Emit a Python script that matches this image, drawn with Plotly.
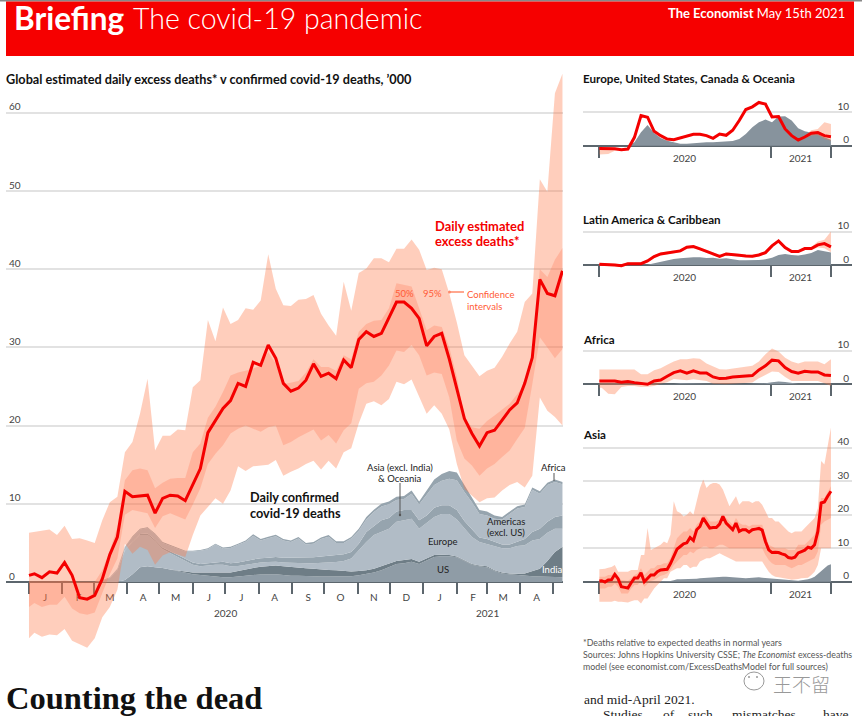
import numpy as np
import pandas as pd
import plotly.graph_objects as go

W, H = 862, 716
SANS = "Lato"
SERIF = "Liberation Serif"

# ---------- dates ----------
weekly_dates = [pd.Timestamp("2020-01-01")] + list(pd.date_range("2020-01-06", "2021-05-10", freq="7D"))
biweekly_dates = [pd.Timestamp("2020-01-01")] + list(pd.date_range("2020-01-06", "2021-05-10", freq="14D"))

# ---------- main chart, thousands ----------
excess_central = [0.85,1.05,0.55,1.3,1.15,2.5,0.85,-2.0,-2.2,-1.7,0.4,3.5,5.75,11.6,10.9,11.0,11.1,8.8,10.7,11.1,11.0,10.4,12.4,14.5,19.1,20.6,22.2,23.2,25.4,25.0,28.1,27.7,30.3,28.6,25.4,24.4,24.8,25.8,27.9,26.3,26.7,26.0,28.4,27.4,31.0,32.0,31.4,31.8,33.9,35.8,35.8,35.0,33.7,30.2,31.4,31.8,28.5,24.5,20.9,19.0,17.4,19.1,19.4,20.7,22.0,22.9,25.4,28.7,38.7,36.9,36.6,39.8]
excess_hi95 = [6.3,6.4,6.5,6.7,6.0,7.2,5.5,5.6,5.3,5.0,7.9,10.2,10.9,16.6,17.9,21.5,26,16.8,18.7,18.7,19.5,19.4,24.9,25.8,33.5,30.8,35.1,33,33.5,35,34.8,36,41.9,37.5,35.4,35.3,36.1,36.2,36.7,34.3,32.8,31.5,38.4,34.7,39.5,40.1,41.4,41.4,40.9,42.6,42.6,43.8,42.5,39.9,40.2,40,36.9,33.2,29,27.7,26.3,27,27.4,28.8,30.5,32,35.8,36.9,51.5,49.9,62.5,65]
excess_lo95 = [-7.2,-6.5,-7,-6.7,-6.8,-6,-7.5,-7.9,-8.4,-7.2,-4.5,-3.2,-1,4.9,3.6,4.5,4.1,2.2,3.4,3.8,3.5,3.2,6,8.5,9.6,10.7,10,11.7,14.8,14.2,14.8,14.9,15,15.6,13.6,14.1,14.5,15.1,15.5,14.4,15.5,14.5,16.6,17.1,20.3,22.8,23.1,22.6,23.4,25.6,25.3,25.9,23.6,21.5,22.6,21.5,19.5,15.1,11.9,11,10.2,10.7,10.8,11.7,12.4,12.8,12.1,13.6,23.6,21.9,21.1,20]
excess_hi50 = [0.1,0.1,0.1,0.1,0.1,0.2,0.1,0,0,0,1.5,4,7,13,14.3,14.5,14.3,12,12.7,13.2,13.3,13.3,16.6,17.7,21,22.4,24.3,26.4,26.8,27,27.3,27.7,29.4,27.9,25.3,25.5,25.7,26.8,28.5,27.5,27.5,27,29,28.5,32,33,33.4,33.5,35,38.2,38,37.8,35,32.2,32.8,32.6,30,26.2,21,19.8,19.6,20.6,21.3,22.1,22.8,24,25.3,29.2,40,39,41.2,42.7]
excess_lo50 = [-3.2,-2.7,-3.2,-2.9,-2.9,-1.9,-3.4,-4,-4.2,-3.9,-1.4,1,3,8.6,9.2,9,8.8,6.9,8.4,8.8,8.4,8,9.9,12,15.1,16.4,17.5,19,19.6,20,19.6,19.2,19.8,20,17.5,17.9,18.5,19,19.5,18.1,18.8,17.7,19.4,20.3,24.7,25.4,25.6,26.4,27.7,29.6,29.4,30.3,29,26.4,26.8,26.6,23.6,18.1,15.8,14.9,13.6,14.5,15.1,16,16.8,18.3,19.7,25.3,31.3,30,28.6,29.8]

no_deaths = [0] * 10
confirmed_us = no_deaths + [0,0,0,.25,1,1.9,2,1.9,1.8,1.6,1.4,1.2,1,.9,.8,.7,.6,.6,.7,.85,.9,.95,1,1,.9,.8,.8,.75,.75,.7,.7,.7,.7,.75,.85,1,1.2,1.5,1.9,2.3,2.4,2.6,2.3,2.7,3.2,3.3,3.3,3.15,2.7,2.2,2,1.9,1.4,1.1,1,.9,.8,.75,.7,.7,.65,.6]
confirmed_india = no_deaths + [0,0,0,0,0,0,0,0,0,0,.05,.1,.2,.3,.4,.5,.6,.6,.7,.8,.9,1,1.05,1.1,1.1,1.1,1.05,1,.95,.9,.85,.8,.7,.6,.55,.5,.5,.5,.45,.4,.4,.35,.3,.3,.25,.2,.15,.1,.1,.1,.1,.1,.1,.1,.1,.15,.3,.6,1,2,3.2,3.9]
confirmed_europe_top = no_deaths + [.1,.5,1.5,4,5.1,6,6,5.2,4.2,3.7,3.2,2.7,2.2,2,2.1,2.2,2.2,2,2.05,2.2,2.4,2.5,2.55,2.6,2.5,2.45,2.4,2.4,2.4,2.45,2.5,2.55,2.7,3,4.05,5.1,6,6.4,6.8,7.7,7.9,8.1,6.8,7.5,8.3,8.7,8.7,8,6.8,5.75,5.1,4.8,4.5,4.3,4.3,4.6,4.7,5.3,5.5,6.3,6.8,6.8]
confirmed_asia = no_deaths + [0,0,.05,.1,.1,.15,.2,.2,.2,.2,.2,.25,.3,.3,.3,.35,.4,.4,.45,.5,.5,.55,.55,.6,.6,.65,.7,.7,.75,.8,.85,.85,.85,.85,.85,1.3,1.1,1.5,1.4,1.3,1.3,1.1,1.1,1,1.2,1.1,1.1,1.2,1,1.05,.6,.7,.6,.5,.5,.6,.8,1.1,1.3,1.4,1.5,1.7]
confirmed_total = no_deaths + [.2,.6,1.7,4.5,5.85,6.8,7,6.2,5.1,4.7,4.3,4,4,4.1,4.3,4.9,4.4,4.5,4.9,5.3,6.1,5.5,5.8,6.05,5.5,5.3,5.75,5,5.1,5.7,6,5.2,5.2,5.75,6.8,8.3,9.25,10,10.3,10.9,11,11.7,10.3,11.7,13.1,13.8,14.2,14,12.4,10.9,9.2,9,8.5,8.3,9,9.7,9.9,12.1,11.6,12.7,13.1,12.8]
confirmed_africa = no_deaths + [0,0,0,.05,.1,.1,.1,.1,.1,.1,.1,.1,.1,.1,.1,.1,.15,.15,.15,.15,.2,.2,.2,.2,.2,.2,.2,.2,.2,.2,.2,.2,.2,.2,.25,.3,.3,.35,.35,.4,.4,.4,.4,.5,.7,.85,1,1,.9,.7,.5,.5,.4,.3,.3,.3,.3,.3,.3,.3,.3,.3]

# ---------- regional panels ----------
west_excess = [-.8,-.8,-.8,-.9,-1.2,-1,2.5,9,8.5,4.3,3,2,1.8,2.4,3,3.4,3.4,3,2.2,3.5,3.1,4.6,7.5,10.8,11.6,12.9,12.4,8.6,8.7,5,3,1.7,2.6,3.7,3.9,3,2.7]
west_hi = [-.4,-.4,-.5,-.7,-.9,-.7,2.8,9.3,8.8,4.6,3.3,2.3,2.1,2.7,3.3,3.7,3.7,3.3,2.5,3.8,3.4,4.9,7.8,11.1,11.9,13.2,12.7,8.9,9,5.3,3.3,2,3,4.6,5,7,6.5]
west_lo = [-2.6,-2.6,-2.5,-1.5,-1.4,-1.2,2.2,8.7,8.2,4,2.7,1.7,1.5,2.1,2.7,3.1,3.1,2.7,1.9,3.2,2.8,4.3,7.2,10.5,11.3,12.6,12.1,8.3,8.4,4.7,2.7,1.4,2.2,3,3.1,2,1.5]
west_confirmed = [0,0,0,0,0,0,1,4,6.2,3.8,2.3,1.5,1,.6,.6,.8,.9,1,1,1.1,1.3,1.4,2,3.5,5.5,7,7.8,7,8.7,8.8,7.5,5.2,4.3,3.9,3.5,2.5,1.8]

latam_excess = [.2,.2,.2,0,-.2,.4,.4,.4,1.2,2.5,3.3,3.6,4,4.2,5.3,5.5,4.8,4,3.3,2.6,3.3,3.2,2.9,2.7,2.6,3,3.7,5.7,7.2,5.2,4,4,4.9,4.9,6,6.4,5.4]
latam_hi = [.6,.6,.6,.4,.2,.8,.8,.8,1.6,2.9,3.7,4,4.4,4.6,5.7,5.9,5.2,4.4,3.7,3,3.7,3.6,3.3,3.1,3,3.4,4.1,6.1,7.6,5.6,4.4,4.4,5.3,5.4,7,7.5,10]
latam_lo = [-.2,-.2,-.2,-.4,-.6,0,0,0,.8,2.1,2.9,3.2,3.6,3.8,4.9,5.1,4.4,3.6,2.9,2.2,2.9,2.8,2.5,2.3,2.2,2.6,3.3,5.3,6.8,4.8,3.6,3.6,4.5,4.4,5.2,5,3.8]
latam_confirmed = [0,0,0,0,0,0,0,0,.1,.5,1,1.5,1.8,2,2.2,2.3,2.3,2.1,2.2,1.9,2,1.6,1.4,1.4,1.4,1.5,1.7,2.2,3,3.3,3,2.8,3.1,3.6,4.5,4,3.7]

africa_excess = [1,1,1,1,.6,.8,.5,.2,0,1,1.3,2.4,3.5,4,3.3,4,3.4,3.4,2.2,1.7,1.8,2.2,2.4,2.6,2.6,4.3,5.5,7.2,7,5,3.8,3.3,3.9,3.7,3.7,2.8,2.6]
africa_hi = [4.4,4.4,4.4,4.4,4.4,4.4,4.4,3,3,4.2,4.8,5.8,6.8,7.5,7.5,7.8,7.6,6.2,5.4,4.5,4.4,4.7,5,5.4,5.5,6.8,9,10.7,9.8,7.9,6.8,6.2,6.8,6.8,6.8,6,7.5]
africa_lo = [-1,-1,-2.8,-3,-.8,-.5,-.5,-.8,-.7,-.5,.2,.6,1.6,1.5,1.2,1.5,1.3,1,.2,0,0,.2,.3,.5,.5,1.8,2.9,3.8,3.7,2.2,1,1,1,1,1,.3,-.5]
africa_confirmed = [0,0,0,0,0,0,0,0,0,0,0,0,.1,.3,.3,.4,.3,.2,.15,.1,.1,.1,.1,.1,.15,.2,.3,.6,.8,.7,.4,.2,.2,.2,.2,.2,.2]

asia_excess = [.2,.3,-.1,.5,.6,2.2,.9,-1.5,-1.7,-1.9,-.3,1.1,1.1,2.7,0,1.1,2,2,3,3.5,3.7,3.7,5.4,7.5,9.7,10.5,11.3,11.6,13.2,12.3,15.5,16.5,19,17.5,16,16.2,16.2,17.2,19.5,17.5,16.5,15.5,17.5,15,15.5,15.5,14.8,15.5,15.7,15.9,15.4,12,9.5,8.7,8.8,8.7,8.3,8,7.2,7,7.3,8.6,9,9.4,10.3,10,11,15,23.5,23.8,25.5,27]
asia_hi95 = [3.7,3.7,3.9,4.2,4.4,5,3,3,3,3,3.5,3.5,3.5,8,8,16,9.5,10,10.5,11,12,11.5,14,24,21,20.5,19.5,20,21,20,24,28,30.5,28,29,29.5,29.5,29,27.5,25,22.5,24,25.5,23,24,24,24,23.5,24,24,23,21,19,19,18,18,17,16,15,14.5,15,15,15,16,17,18,19,22,36,35,40,46]
asia_lo95 = [-6,-6,-6,-5.8,-6,-5.7,-6,-6,-6,-6.2,-5.8,-5.5,-5.5,-6.5,-5,-5,-3.5,-2,-1,0,1,1,3,3.5,4,4,5,5,4,4.5,4.5,6,6.5,7,7,7.5,8,8.5,8,7.5,7,6.5,6,6,6,6,6,6,6,6,6,4.5,3,2,1.5,1.3,1.2,1,.8,.6,.6,.8,1,1,1.2,2,3,5,10,10,10,10]
asia_hi50 = [1.5,1.5,1.5,2,2,3,1.5,.5,.3,.2,1,2,2.5,4,2,3,4,4,5,5,5.5,5.5,7,10,13,14,15,15,16,15,17,18,20,19.5,18,18,18,18.5,20,19,18,17,19,17.5,17,17,16.5,17,17,17,17,14,11,10.5,10,10,10,10,9.5,9.5,9.5,11,11,11,12,13,14,18,25,25,27,28.5]
asia_lo50 = [-2,-2,-2,-1.5,-1.5,-.5,-1.5,-3.5,-3.5,-3.5,-2,-1,-1,.5,-1.5,-.5,.2,.5,1.2,1.8,2,2.5,3.5,5,6,7,8,8,9,8.5,9.5,10,10.5,10.5,10,10,10.5,11,11,10.5,10,10,10,10,10,10,10,10,10,10,10,8,6.5,5.5,5,5,5,5,4.5,4,4.5,5,5,5.5,6,6.5,7,9,17,18,18.5,19]
asia_confirmed = [0]*22 + [.2,.4,.7,.7,.7,.7,.8,.8,.9,1,1.1,1.1,1.2,1.2,1.3,1.4,1.5,1.5,1.4,1.3,1.3,1.1,1,1,1.1,1.2,1.3,1.3,1.2,1.1,1,.9,.9,.9,.8,.6,.4,.3,.3,.3,.4,.5,.7,1,1.5,2.3,3.2,4,4.8,5.2]

# ---------- labels ----------
main_ticks = ["0","10","20","30","40","50","60"]
month_letters = list("JFMAMJJASONDJFMA")
month_starts = list(pd.date_range("2020-01-01", "2021-05-01", freq="MS"))
month_mids = [m + pd.Timedelta(days=15) for m in month_starts[:-1]]
year_ticks = ["2020", "2021"]

# ---------- styles ----------
RED = "#F40000"
LIGHT_BAND = "rgba(255,120,70,0.36)"
DARK_BAND = "rgba(255,110,70,0.26)"
GREY_LIGHT = "#B1BCC6"
GREY_BAND = "#96A4AE"
GREY_US = "#8F9CA6"
GREY_INDIA = "#6E7D86"
GREY_PANEL = "#87939D"
GRID = "#E2E2E2"
AXIS = "#5C666D"
TICKTXT = "#444444"
ORANGE = "#FF5A36"

fx = lambda x: x / W
fy = lambda y: 1 - y / H

fig = go.Figure()


def add_band(axis_id, dates, lo, hi, colour, name):
    xa, ya = "x" + axis_id, "y" + axis_id
    fig.add_trace(go.Scatter(x=dates, y=lo, mode="lines", line=dict(width=0), xaxis=xa, yaxis=ya,
                             showlegend=False, hoverinfo="skip", name=name + " low"))
    fig.add_trace(go.Scatter(x=dates, y=hi, mode="lines", line=dict(width=0), fill="tonexty", fillcolor=colour,
                             xaxis=xa, yaxis=ya, showlegend=False, hoverinfo="skip", name=name))


# main chart: stacked confirmed deaths
b_us = np.array(confirmed_us, float)
b_india = b_us + np.array(confirmed_india, float)
b_europe = np.array(confirmed_europe_top, float)
b_asia = b_europe + np.array(confirmed_asia, float)
b_total = np.array(confirmed_total, float)
b_americas = b_total - np.array(confirmed_africa, float)
zero_main = np.zeros(len(weekly_dates))
add_band("", weekly_dates, zero_main, b_us, GREY_US, "US")
add_band("", weekly_dates, b_us, b_india, GREY_INDIA, "India")
add_band("", weekly_dates, b_india, b_europe, GREY_LIGHT, "Europe")
add_band("", weekly_dates, b_europe, b_asia, GREY_BAND, "Asia excl. India & Oceania")
add_band("", weekly_dates, b_asia, b_americas, GREY_LIGHT, "Americas excl. US")
add_band("", weekly_dates, b_americas, b_total, GREY_BAND, "Africa")
add_band("", weekly_dates, excess_lo95, excess_hi95, LIGHT_BAND, "95% CI")
add_band("", weekly_dates, excess_lo50, excess_hi50, DARK_BAND, "50% CI")
fig.add_trace(go.Scatter(x=weekly_dates, y=excess_central, mode="lines", line=dict(color=RED, width=3),
                         showlegend=False, name="Estimated excess deaths"))

# panels
panels = [
    ("2", biweekly_dates, west_confirmed, west_lo, west_hi, None, None, west_excess),
    ("3", biweekly_dates, latam_confirmed, latam_lo, latam_hi, None, None, latam_excess),
    ("4", biweekly_dates, africa_confirmed, africa_lo, africa_hi, None, None, africa_excess),
    ("5", weekly_dates, asia_confirmed, asia_lo95, asia_hi95, asia_lo50, asia_hi50, asia_excess),
]
for pid, d, conf, lo, hi, lo50, hi50, central in panels:
    fig.add_trace(go.Scatter(x=d, y=conf, mode="lines", line=dict(width=0), fill="tozeroy", fillcolor=GREY_PANEL,
                             xaxis="x" + pid, yaxis="y" + pid, showlegend=False, name="Confirmed"))
    add_band(pid, d, lo, hi, LIGHT_BAND, "95% CI")
    if lo50 is not None:
        add_band(pid, d, lo50, hi50, DARK_BAND, "50% CI")
    fig.add_trace(go.Scatter(x=d, y=central, mode="lines", line=dict(color=RED, width=3),
                             xaxis="x" + pid, yaxis="y" + pid, showlegend=False, name="Excess"))

# ---------- axes ----------
tick_font = dict(family=SANS, size=10, color=TICKTXT)


def x_axis(dom, rng, base_px, vals, text, minor_vals, label_len):
    return dict(domain=[fx(dom[0]), fx(dom[1])], range=rng, type="date", anchor="free", position=fy(base_px),
                showgrid=False, zeroline=False, showline=True, linecolor=AXIS, linewidth=2, layer="below traces",
                tickmode="array", tickvals=vals, ticktext=text, ticks="outside", ticklen=label_len,
                tickcolor="rgba(0,0,0,0)", tickfont=tick_font, tickangle=0,
                minor=dict(tickmode="array", tickvals=minor_vals, ticks="outside", ticklen=11, tickwidth=1.6,
                           tickcolor=AXIS, showgrid=False))


def y_axis(dom_px, base_px, per_unit, anchor, vals, side):
    lo = (base_px - dom_px[1]) / per_unit
    hi = (base_px - dom_px[0]) / per_unit
    return dict(domain=[fy(dom_px[1]), fy(dom_px[0])], range=[lo, hi], anchor=anchor, side=side,
                tickmode="array", tickvals=vals, ticktext=[str(v) for v in vals],
                showgrid=True, gridcolor=GRID, gridwidth=1.5, zeroline=False, showline=False, ticks="",
                ticklabelposition="inside", ticklabelshift=-6, tickfont=tick_font, layer="below traces")


layout = dict(
    width=W, height=H, autosize=False, margin=dict(l=0, r=0, t=0, b=0),
    paper_bgcolor="white", plot_bgcolor="rgba(0,0,0,0)", showlegend=False,
    font=dict(family=SANS, size=10, color="#222222"),
    xaxis=x_axis((6, 563), ["2019-12-10 16:00", "2021-05-10 12:00"], 582, month_mids, month_letters, month_starts, 6),
    yaxis=y_axis((65, 655), 582, 7.82, "x", [int(t) for t in main_ticks], "left"),
)
panel_geo = [
    ("2", (90, 160), 145.7, [0, 10]),
    ("3", (205, 280), 265, [0, 10]),
    ("4", (325, 400), 384.3, [0, 10]),
    ("5", (426, 606), 581.7, [0, 10, 20, 30, 40]),
]
year_starts = [pd.Timestamp("2020-01-01"), pd.Timestamp("2021-01-01"), pd.Timestamp("2021-05-10")]
year_mids = [pd.Timestamp("2020-07-01"), pd.Timestamp("2021-03-06")]
for pid, dom, base, vals in panel_geo:
    layout["xaxis" + pid] = x_axis((583, 852), ["2019-11-27", "2021-06-24"], base, year_mids, year_ticks, year_starts, 3)
    layout["yaxis" + pid] = y_axis(dom, base, 3.35, "x" + pid, vals, "right")
fig.update_layout(**layout)

# ---------- decoration ----------
shapes = []


def rect(x0, y0, x1, y1, fill, layer="below"):
    shapes.append(dict(type="rect", xref="paper", yref="paper", x0=fx(x0), x1=fx(x1), y0=fy(y0), y1=fy(y1),
                       fillcolor=fill, line=dict(width=0), layer=layer))


def seg(x0, y0, x1, y1, colour, width=1):
    shapes.append(dict(type="line", xref="paper", yref="paper", x0=fx(x0), x1=fx(x1), y0=fy(y0), y1=fy(y1),
                       line=dict(color=colour, width=width), layer="above"))


def dot(x, y, r, colour):
    shapes.append(dict(type="circle", xref="paper", yref="paper", x0=fx(x - r), x1=fx(x + r), y0=fy(y + r), y1=fy(y - r),
                       fillcolor=colour, line=dict(width=0), layer="above"))


rect(0, 0, W, 1.5, "#888888")
rect(6, 1.5, 854, 56, "#F60000")
rect(246.5, 490, 343, 520, "white", "between")
seg(400, 483, 400, 515, "#555555")
dot(400, 515, 1.2, "#555555")
seg(554, 473, 554, 481, "#555555")
seg(449, 292, 464, 292, "#FF8A6A", 1.5)
dot(449.5, 292, 1.5, "#FF8A6A")
# watermark badge
shapes.append(dict(type="circle", xref="paper", yref="paper", x0=fx(744), x1=fx(764), y0=fy(690), y1=fy(672),
                   line=dict(color="#999999", width=1)))
shapes.append(dict(type="circle", xref="paper", yref="paper", x0=fx(748), x1=fx(750), y0=fy(678), y1=fy(676),
                   fillcolor="#999999", line=dict(width=0)))
shapes.append(dict(type="circle", xref="paper", yref="paper", x0=fx(756), x1=fx(758), y0=fy(678), y1=fy(676),
                   fillcolor="#999999", line=dict(width=0)))
fig.update_layout(shapes=shapes)


def txt(text, x, y, size=10, colour="#222222", anchor="left", family=SANS, weight=None):
    f = dict(family=family, size=size, color=colour)
    if weight:
        f["weight"] = weight
    fig.add_annotation(text=text, xref="paper", yref="paper", x=fx(x), y=fy(y), xanchor=anchor, yanchor="middle",
                       showarrow=False, font=f, align=anchor, borderpad=0, borderwidth=0)


txt("Briefing", 14, 18, 31.5, "white", weight=700)
txt("The covid-19 pandemic", 133, 18, 28.5, "white", weight=300)
txt("<b>The Economist</b> May 15th 2021", 845, 13, 13, "white", "right")
txt("Global estimated daily excess deaths* v confirmed covid-19 deaths, ’000", 6, 79, 12.7, "#111111", weight=700)
txt("Europe, United States, Canada & Oceania", 583, 79, 11.6, "#111111", weight=700)
txt("Latin America & Caribbean", 583, 219, 11.6, "#111111", weight=700)
txt("Africa", 583, 339, 11.6, "#111111", weight=700)
txt("Asia", 583, 435, 11.6, "#111111", weight=700)
txt("Daily estimated", 435, 226, 12.9, RED, weight=700)
txt("excess deaths*", 435, 241, 12.9, RED, weight=700)
txt("Daily confirmed", 250, 497, 12.7, "#111111", weight=700)
txt("covid-19 deaths", 250, 513, 12.7, "#111111", weight=700)
txt("50%", 404, 293, 9.5, ORANGE, "center")
txt("95%", 432, 293, 9.5, ORANGE, "center")
txt("Confidence", 467, 294, 9.5, ORANGE)
txt("intervals", 467, 306, 9.5, ORANGE)
txt("Asia (excl. India)", 400, 467, 9.5, "#222222", "center")
txt("& Oceania", 400, 478, 9.5, "#222222", "center")
txt("Americas", 506, 521, 9.5, "#222222", "center")
txt("(excl. US)", 506, 532, 9.5, "#222222", "center")
txt("Europe", 443, 541, 9.5, "#222222", "center")
txt("US", 443, 569, 9.5, "#222222", "center")
txt("India", 552, 569, 9.5, "white", "center")
txt("Africa", 553, 467, 9.5, "#222222", "center")
txt(year_ticks[0], 225, 613, 10, TICKTXT, "center")
txt(year_ticks[1], 487, 613, 10, TICKTXT, "center")
txt("*Deaths relative to expected deaths in normal years", 583, 642, 8.8, "#555555")
txt("Sources: Johns Hopkins University CSSE; <i>The Economist</i> excess-deaths", 583, 654, 8.8, "#555555")
txt("model (see economist.com/ExcessDeathsModel for full sources)", 583, 666, 8.8, "#555555")
txt("Counting the dead", 6, 698, 32.5, "#111111", family=SERIF, weight=700)
txt("and mid-April 2021.", 584, 699, 13.5, "#222222", family=SERIF)
for word, wx in [("Studies", 603), ("of", 663), ("such", 688), ("mismatches", 732), ("have", 823)]:
    txt(word, wx, 714, 13.5, "#222222", family=SERIF)
txt("王不留", 773, 683, 19, "#999999", family="Noto Sans CJK SC", weight=300)

fig.write_html("out.html", config=dict(displayModeBar=False),
               post_script="document.body.style.margin='0';document.body.style.overflow='hidden';")
